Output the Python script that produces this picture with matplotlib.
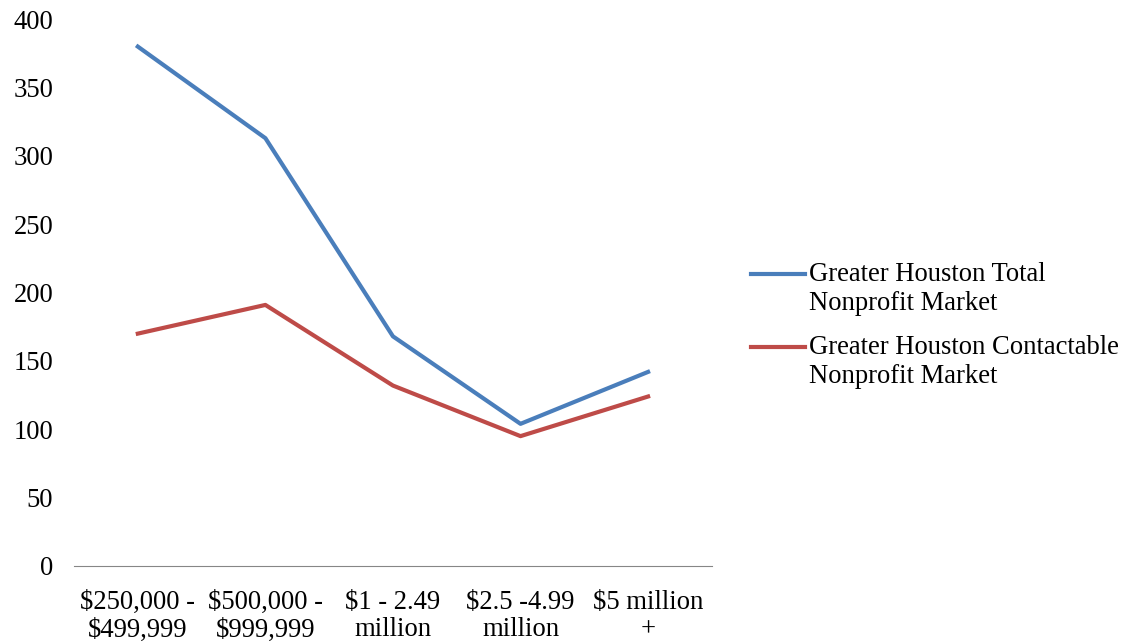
import matplotlib.pyplot as plt

# Greater Houston nonprofit market by budget size
categories = ["$250,000 -\n$499,999", "$500,000 -\n$999,999", "$1 - 2.49\nmillion",
              "$2.5 -4.99\nmillion", "$5 million\n+"]
total_market = [380, 313, 168, 104, 142]
contactable_market = [170, 191, 132, 95, 124]
series_names = ["Greater Houston Total\nNonprofit Market",
                "Greater Houston Contactable\nNonprofit Market"]

plt.rcParams['font.family'] = ['Liberation Serif', 'DejaVu Serif']
plt.rcParams['font.size'] = 19.2

fig = plt.figure(figsize=(11.39, 6.42), dpi=100)
ax = fig.add_axes([0.065, 0.1184, 0.56, 0.8516])

x = range(len(categories))
ax.plot(x, total_market, color="#4A7EBB", linewidth=3, label=series_names[0])
ax.plot(x, contactable_market, color="#BE4B48", linewidth=3, label=series_names[1])

ax.set_xlim(-0.5, len(categories) - 0.5)
ax.set_ylim(0, 400)
ax.set_yticks(range(0, 401, 50))
ax.set_xticks(list(x))
ax.set_xticklabels(categories, linespacing=1.15)
ax.tick_params(axis="both", length=0, colors="black")
ax.tick_params(axis="y", pad=15)
ax.tick_params(axis="x", pad=17)
for side in ["top", "right", "left"]:
    ax.spines[side].set_visible(False)
ax.spines["bottom"].set_color("#868686")

leg = ax.legend(loc="center left", bbox_to_anchor=(1.024, 0.44), frameon=False,
                handlelength=2.0, handletextpad=0.15, labelspacing=0.7)
for t in leg.get_texts():
    t.set_linespacing(1.2)
# put the legend keys next to the first line of each label
for line in leg.get_lines():
    line.set_ydata([v + 11 for v in line.get_ydata()])

fig.savefig("out.png", dpi=100)
